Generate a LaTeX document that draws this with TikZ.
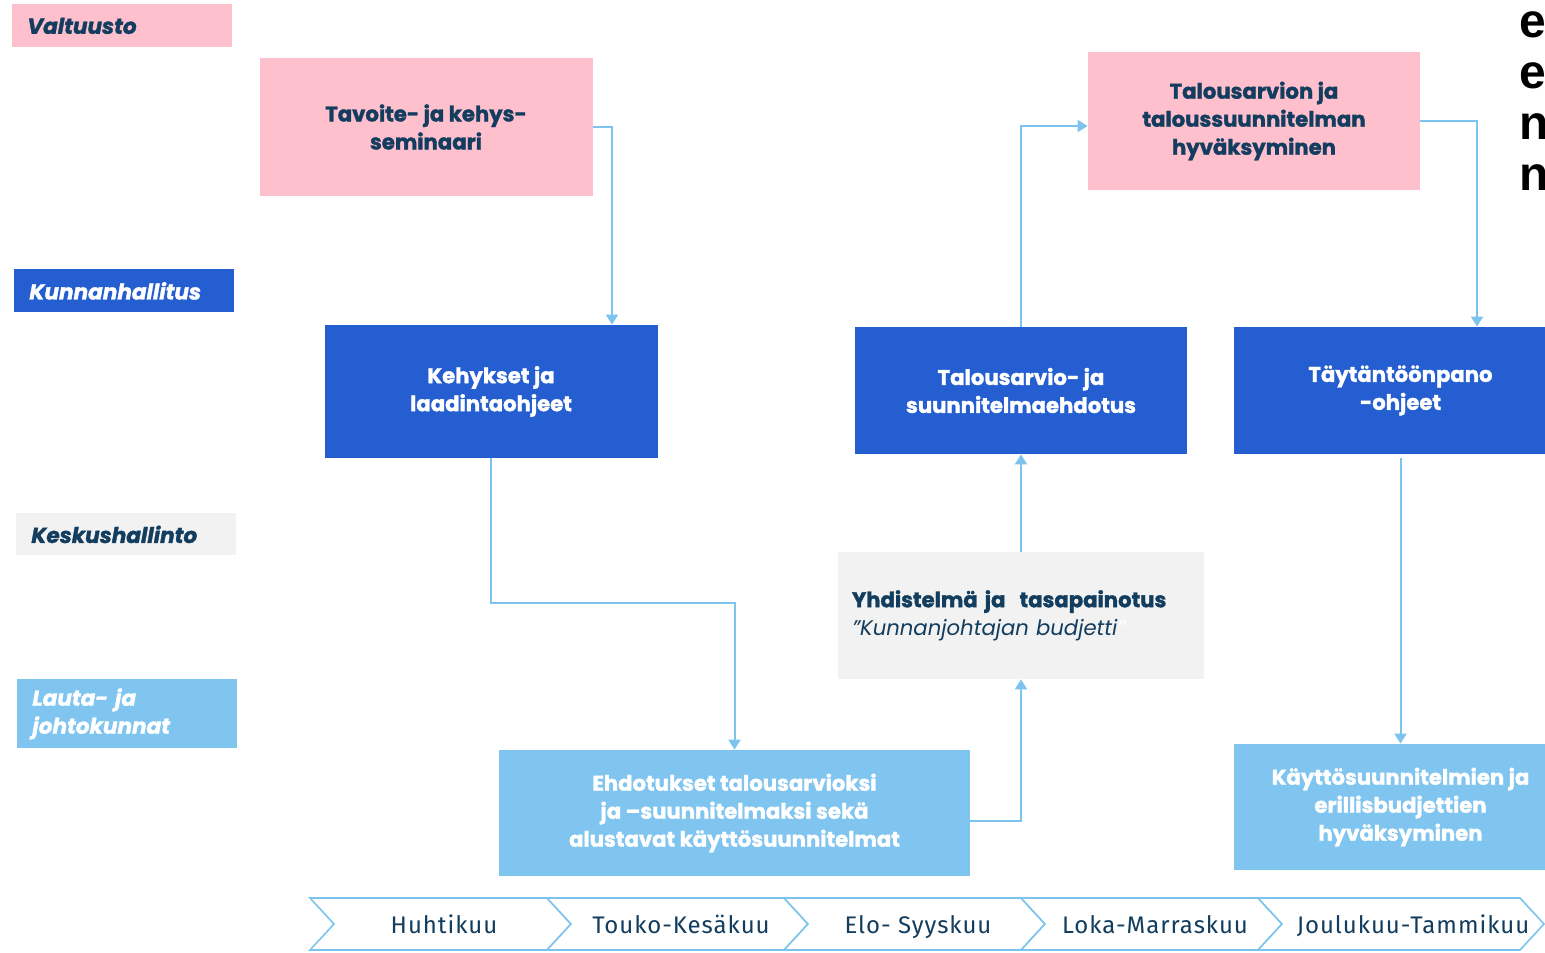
\documentclass[tikz,border=0pt]{standalone}
\usepackage{fontspec}
\newfontfamily\popfont{Poppins}[BoldFeatures={FakeBold=1.6},BoldItalicFeatures={FakeBold=1.6}]
\newfontfamily\monthfont{Fira Sans}[LetterSpace=4]
\newfontfamily\heavyfont{Liberation Sans}
\usetikzlibrary{arrows.meta}
\definecolor{vpink}{RGB}{255,192,206}
\definecolor{khblue}{RGB}{36,94,209}
\definecolor{ljblue}{RGB}{128,197,239}
\definecolor{kgray}{RGB}{242,242,242}
\definecolor{navy}{RGB}{18,61,94}
\definecolor{flowblue}{RGB}{124,196,238}
\tikzset{
  lane/.style={anchor=north west,inner xsep=7.5pt,inner ysep=0pt,text width=95pt,align=left,
    font=\popfont\bfseries\itshape\fontsize{10.8}{14}\selectfont},
  box/.style={inner sep=0pt,align=center,font=\popfont\bfseries\fontsize{10.6}{14}\selectfont},
  flow/.style={draw=flowblue,line width=1pt,-{Triangle[width=6pt,length=5pt]}},
  month/.style={anchor=base,font=\monthfont\fontsize{12}{14}\selectfont,text=navy},
}

\begin{document}
\begin{tikzpicture}[x=0.5pt,y=-0.5pt]
        \useasboundingbox (0,0) rectangle (1545,952);
        \clip (0,0) rectangle (1545,952);
        % lanes
        \node[lane,fill=vpink,text=navy,minimum height=21.5pt] (valt) at (12,4) {Valtuusto};
        \node[lane,fill=khblue,text=white,minimum height=21.5pt] (kh) at (14,269) {Kunnanhallitus};
        \node[lane,fill=kgray,text=navy,minimum height=21pt] (kesk) at (16,513) {Keskushallinto};
        \node[lane,fill=ljblue,text=white,minimum height=34.5pt] (lauta) at (17,679) {Lauta- ja\\johtokunnat};
        % steps
        \node[box,fill=vpink,text=navy,minimum width=166.5pt,minimum height=69pt] (tavoite) at (426,127) {Tavoite- ja kehys-\\seminaari};
        \node[box,fill=khblue,text=white,minimum width=166.5pt,minimum height=66.5pt] (kehys) at (491,391.5) {Kehykset ja\\laadintaohjeet};
        \node[box,fill=vpink,text=navy,minimum width=166pt,minimum height=69pt] (hyvaks) at (1254,121) {Talousarvion ja\\taloussuunnitelman\\hyväksyminen};
        \node[box,fill=khblue,text=white,minimum width=166pt,minimum height=63.5pt] (ehdotus) at (1021,390.5) {Talousarvio- ja\\suunnitelmaehdotus};
        \node[box,fill=khblue,text=white,minimum width=166.5pt,minimum height=63.5pt] (taytanto) at (1400.5,390.5) {Täytäntöönpano\\-ohjeet};
        \node[box,fill=kgray,text=navy,minimum width=183pt,minimum height=63.5pt,text width=169pt,align=left] (yhdist) at (1021,615.5)
          {Yhdistelmä ja\ \ tasapainotus\\{\mdseries\itshape ”Kunnanjohtajan budjetti{\color{white}”}}};
        \node[box,fill=ljblue,text=white,minimum width=235.5pt,minimum height=63pt] (ehdot) at (734.5,813) {Ehdotukset talousarvioksi\\ja –suunnitelmaksi sekä\\alustavat käyttösuunnitelmat};
        \node[box,fill=ljblue,text=white,minimum width=166.5pt,minimum height=63pt] (kaytto) at (1400.5,807) {Käyttösuunnitelmien ja\\erillisbudjettien\\hyväksyminen};
        % flow
        \draw[flow] (tavoite.east) -| ([xshift=60.5pt]kehys.north);
        \draw[flow] (kehys.south) -- ++(0,145) -| (ehdot.north);
        \draw[flow] ([yshift=-4pt]ehdot.east) -| (yhdist.south);
        \draw[flow] (yhdist.north) -- (ehdotus.south);
        \draw[flow] (ehdotus.north) |- ([yshift=-2.5pt]hyvaks.west);
        \draw[flow] (hyvaks.east) -| ([xshift=38.25pt]taytanto.north);
        \draw[flow] ([yshift=-2pt]taytanto.south) -- (kaytto.north);
        % timeline
        \foreach \xa/\w/\xt/\m [count=\i] in {310/237/444/Huhtikuu,547/237/681/Touko-Kesäkuu,784/237/918/Elo- Syyskuu,
            1021/237/1155/Loka-Marraskuu,1258/262/1413/Joulukuu-Tammikuu}{
          \draw[flowblue,line width=0.8pt,fill=white] (\xa,898) -- ++(\w,0) -- ++(24,26) -- ++(-24,26) -- ++(-\w,0) -- ++(24,-26) -- cycle;
          \node[month] (m\i) at (\xt,933) {\m};
        }
        % cut-off text at the right edge
        \foreach \l [count=\j] in {e,e,n,n}
          \node[anchor=base west,inner sep=0pt,font=\heavyfont\bfseries\fontsize{24}{26}\selectfont] (frag\j) at (1519,-13+51*\j) {\l};
\end{tikzpicture}
\end{document}
